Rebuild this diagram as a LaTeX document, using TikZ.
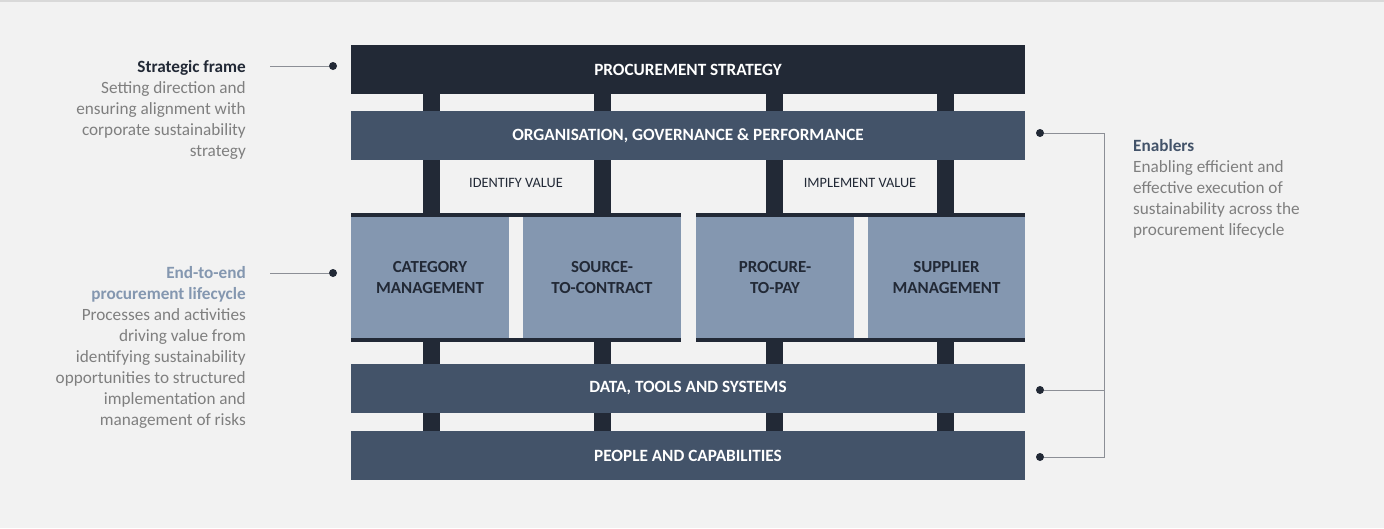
\documentclass[tikz,border=0pt]{standalone}
\usepackage{fontspec}
\setmainfont{Carlito}
\definecolor{bgcol}{HTML}{F2F2F2}
\definecolor{darkbar}{HTML}{222936}
\definecolor{midbar}{HTML}{435369}
\definecolor{lightbox}{HTML}{8497B0}
\definecolor{greytext}{HTML}{7F7F7F}
\definecolor{linecol}{HTML}{8C8F96}
\tikzset{
  bar/.style={fill=midbar, draw=none, inner sep=0pt, minimum width=674pt,
    minimum height=49pt, text=white, font=\fontsize{17.2}{20}\selectfont\bfseries},
  cell/.style={fill=lightbox, draw=none, inner sep=0pt, align=center,
    minimum height=121pt, text=darkbar, font=\fontsize{16.9}{21}\selectfont\bfseries},
  pillar/.style={fill=darkbar},
  valuelabel/.style={text=darkbar, font=\fontsize{14.3}{17}\selectfont},
  sidetext/.style={inner sep=0pt, text=greytext, font=\fontsize{17.2}{21}\selectfont},
  dot/.style={circle, fill=darkbar, inner sep=0pt, minimum size=8pt},
  conn/.style={draw=linecol, line width=1pt}
}
\begin{document}
\begin{tikzpicture}[x=1pt, y=-1pt]
  \fill[bgcol] (0,0) rectangle (1384,528);
  \useasboundingbox (0,0) rectangle (1384,528);
  \draw[draw=black!15, line width=1.5pt] (0,0.75) -- (1384,0.75);
  % pillars behind everything
  \foreach \x in {431.5, 602.5, 774.5, 945.5}
    \fill[pillar] (\x-8.5,94) rectangle (\x+8.5,431);
  % layers
  \node[bar, fill=darkbar] (strategy) at (688,69.5) {PROCUREMENT STRATEGY};
  \node[bar] (governance) at (688,135.5) {ORGANISATION, GOVERNANCE \& PERFORMANCE};
  \node[bar] (data) at (688,388.5) {DATA, TOOLS AND SYSTEMS};
  \node[bar] (people) at (688,455.5) {PEOPLE AND CAPABILITIES};
  % lifecycle
  \fill[darkbar] (351,213) rectangle (681,342);
  \fill[darkbar] (696,213) rectangle (1025,342);
  \fill[bgcol] (509,217) rectangle (523,338);
  \fill[bgcol] (854,217) rectangle (868,338);
  \node[cell, minimum width=158pt] (category) at (430,277.5) {CATEGORY\\MANAGEMENT};
  \node[cell, minimum width=158pt] (sourcing) at (602,277.5) {SOURCE-\\TO-CONTRACT};
  \node[cell, minimum width=158pt] (p2p) at (775,277.5) {PROCURE-\\TO-PAY};
  \node[cell, minimum width=157pt] (supplier) at (946.5,277.5) {SUPPLIER\\MANAGEMENT};
  \node[valuelabel] (identify) at (516,183) {IDENTIFY VALUE};
  \node[valuelabel] (implement) at (860,183) {IMPLEMENT VALUE};
  % left notes
  \node[sidetext, anchor=north east, align=right] (framenote) at (246,60)
    {\textbf{\color{darkbar}Strategic frame}\\Setting direction and\\ensuring alignment with\\corporate sustainability\\strategy};
  \node[sidetext, anchor=north east, align=right] (cyclenote) at (246,266)
    {\textbf{\color{lightbox}End-to-end}\\\textbf{\color{lightbox}procurement lifecycle}\\Processes and activities\\driving value from\\identifying sustainability\\opportunities to structured\\implementation and\\management of risks};
  \node[dot] (framedot) at (333,66) {};
  \node[dot] (cycledot) at (333,273) {};
  \coordinate (framestart) at (270,66);
  \coordinate (cyclestart) at (270,273);
  \draw[conn] (framestart) -- (framedot);
  \draw[conn] (cyclestart) -- (cycledot);
  % enablers
  \node[dot] (govdot) at (1040,133) {};
  \node[dot] (datadot) at (1040,390) {};
  \node[dot] (peopledot) at (1040,457) {};
  \coordinate (brace) at (1104,133);
  \draw[conn] (govdot) -- (brace) |- (peopledot);
  \draw[conn] (datadot) -- (datadot -| brace);
  \node[sidetext, anchor=north west, align=left] (enablenote) at (1133,139)
    {\textbf{\color{midbar}Enablers}\\Enabling efficient and\\effective execution of\\sustainability across the\\procurement lifecycle};
\end{tikzpicture}
\end{document}
